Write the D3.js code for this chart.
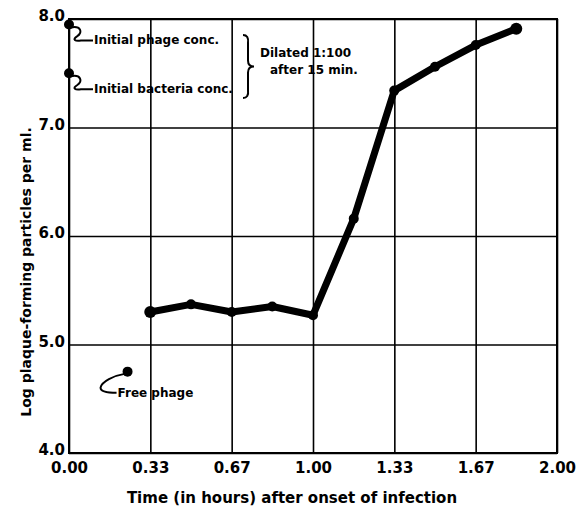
<!DOCTYPE html>
<html>
<head>
<meta charset="utf-8">
<script src="https://cdn.jsdelivr.net/npm/d3@7"></script>
<style>
  body { margin: 0; background: #fff; }
  text { font-family: "DejaVu Sans", sans-serif; font-weight: bold; fill: #000; }
  .grid line { stroke: #000; stroke-width: 1.6; }
  .grid path { display: none; }
  .axis path { display: none; }
  .axis line { display: none; }
</style>
</head>
<body>
<script>
// Define SVG area dimensions
var svgWidth = 582;
var svgHeight = 517;

var chartMargin = { top: 19, right: 25, bottom: 64, left: 69 };
var chartWidth = svgWidth - chartMargin.left - chartMargin.right;
var chartHeight = svgHeight - chartMargin.top - chartMargin.bottom;

// data: time in hours, log plaque-forming particles per ml
var times = [0.333, 0.5, 0.667, 0.833, 1.0, 1.167, 1.333, 1.5, 1.667, 1.833];
var logPfu = [5.30, 5.37, 5.30, 5.35, 5.27, 6.16, 7.34, 7.56, 7.76, 7.91];

// initial concentrations and free phage
var initialPhage = { time: 0, value: 7.95 };
var initialBacteria = { time: 0, value: 7.50 };
var freePhage = { time: 0.24, value: 4.75 };

// tick values
var xTicks = [0, 1 / 3, 2 / 3, 1, 4 / 3, 5 / 3, 2];
var yTicks = [4, 5, 6, 7, 8];

var svg = d3.select("body")
  .append("svg")
  .attr("width", svgWidth)
  .attr("height", svgHeight);

var chartGroup = svg.append("g")
  .attr("transform", `translate(${chartMargin.left}, ${chartMargin.top})`);

var xScale = d3.scaleLinear().domain([0, 2]).range([0, chartWidth]);
var yScale = d3.scaleLinear().domain([4, 8]).range([chartHeight, 0]);

// grid lines
chartGroup.append("g")
  .attr("class", "grid")
  .attr("transform", `translate(0, ${chartHeight})`)
  .call(d3.axisBottom(xScale).tickValues(xTicks).tickSize(-chartHeight).tickFormat(""));

chartGroup.append("g")
  .attr("class", "grid")
  .call(d3.axisLeft(yScale).tickValues(yTicks).tickSize(-chartWidth).tickFormat(""));

// frame
chartGroup.append("rect")
  .attr("width", chartWidth)
  .attr("height", chartHeight)
  .attr("fill", "none")
  .attr("stroke", "#000")
  .attr("stroke-width", 2);

// axes labels
var xAxis = chartGroup.append("g")
  .attr("class", "axis")
  .attr("transform", `translate(0, ${chartHeight})`)
  .call(d3.axisBottom(xScale).tickValues(xTicks).tickSize(0).tickPadding(9)
    .tickFormat(d3.format(".2f")));
xAxis.selectAll("text").style("font-size", "15px");

var yAxis = chartGroup.append("g")
  .attr("class", "axis")
  .call(d3.axisLeft(yScale).tickValues(yTicks).tickSize(0).tickPadding(4)
    .tickFormat(d3.format(".1f")));
yAxis.selectAll("text")
  .attr("dy", "0.12em")
  .style("font-size", "15px");

// titles
svg.append("text")
  .attr("x", 292)
  .attr("y", 503)
  .attr("text-anchor", "middle")
  .style("font-size", "15px")
  .text("Time (in hours) after onset of infection");

svg.append("text")
  .attr("transform", "rotate(-90)")
  .attr("x", -272)
  .attr("y", 31)
  .attr("text-anchor", "middle")
  .style("font-size", "14px")
  .text("Log plaque-forming particles per ml.");

// main curve
var pts = times.map((t, i) => [t, logPfu[i]]);
var line = d3.line().x(d => xScale(d[0])).y(d => yScale(d[1]));

chartGroup.append("path")
  .datum(pts)
  .attr("d", line)
  .attr("fill", "none")
  .attr("stroke", "#000")
  .attr("stroke-width", 7)
  .attr("stroke-linejoin", "round");

chartGroup.selectAll("circle.pt")
  .data(pts)
  .enter()
  .append("circle")
  .attr("class", "pt")
  .attr("cx", d => xScale(d[0]))
  .attr("cy", d => yScale(d[1]))
  .attr("r", (d, i) => (i === 0 || i === pts.length - 1) ? 6 : 5)
  .attr("fill", "#000");

// extra points
[initialPhage, initialBacteria, freePhage].forEach(function(p) {
  chartGroup.append("circle")
    .attr("cx", xScale(p.time))
    .attr("cy", yScale(p.value))
    .attr("r", 5)
    .attr("fill", "#000");
});

// annotations with squiggly connectors
function annotate(p, label) {
  var x0 = xScale(p.time), y0 = yScale(p.value);
  chartGroup.append("path")
    .attr("d", `M${x0 + 2},${y0 + 3} C${x0 + 12},${y0 + 1} ${x0 + 14},${y0 + 8} ${x0 + 8},${y0 + 12}` +
      ` C${x0 + 3},${y0 + 15} ${x0 + 6},${y0 + 17} ${x0 + 12},${y0 + 16} L${x0 + 24},${y0 + 16}`)
    .attr("fill", "none")
    .attr("stroke", "#000")
    .attr("stroke-width", 2);
  chartGroup.append("text")
    .attr("x", x0 + 25)
    .attr("y", y0 + 20)
    .style("font-size", "12px")
    .text(label);
}
annotate(initialPhage, "Initial phage conc.");
annotate(initialBacteria, "Initial bacteria conc.");

// brace
var bx = 247 - chartMargin.left, by0 = 35 - chartMargin.top, by1 = 98 - chartMargin.top;
var bm = (by0 + by1) / 2;
chartGroup.append("path")
  .attr("d", `M${bx - 4},${by0} Q${bx + 2},${by0} ${bx + 1},${by0 + 8} L${bx + 1},${bm - 6}` +
    ` Q${bx + 1},${bm} ${bx + 7},${bm} Q${bx + 1},${bm} ${bx + 1},${bm + 6} L${bx + 1},${by1 - 8}` +
    ` Q${bx + 2},${by1} ${bx - 4},${by1}`)
  .attr("fill", "none")
  .attr("stroke", "#000")
  .attr("stroke-width", 2);

chartGroup.append("text")
  .attr("x", 260 - chartMargin.left)
  .attr("y", 57 - chartMargin.top)
  .style("font-size", "12px")
  .text("Dilated 1:100");
chartGroup.append("text")
  .attr("x", 270 - chartMargin.left)
  .attr("y", 74 - chartMargin.top)
  .style("font-size", "12px")
  .text("after 15 min.");

// free phage connector
var fx = xScale(freePhage.time), fy = yScale(freePhage.value);
chartGroup.append("path")
  .attr("d", `M${fx - 2},${fy + 2} C${fx - 14},${fy + 4} ${fx - 26},${fy + 10} ${fx - 27},${fy + 16}` +
    ` C${fx - 27},${fy + 20} ${fx - 20},${fy + 21} ${fx - 11},${fy + 21}`)
  .attr("fill", "none")
  .attr("stroke", "#000")
  .attr("stroke-width", 2);
chartGroup.append("text")
  .attr("x", fx - 10)
  .attr("y", fy + 25)
  .style("font-size", "12px")
  .text("Free phage");
</script>
</body>
</html>
